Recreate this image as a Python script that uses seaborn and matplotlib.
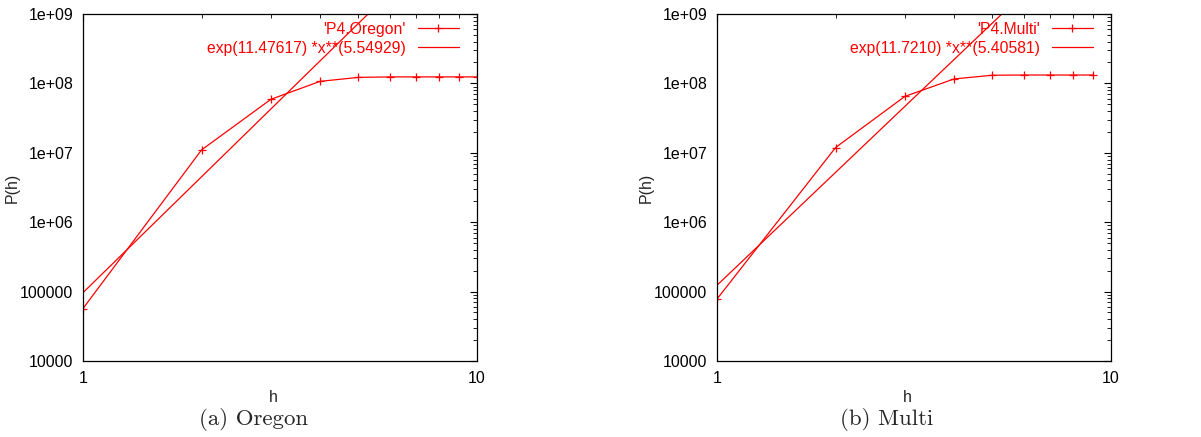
import numpy as np
import seaborn as sns
import matplotlib.pyplot as plt
from matplotlib.ticker import LogLocator, FixedLocator, FuncFormatter, NullFormatter

# data
h_oregon = [1, 2, 3, 4, 5, 6, 7, 8, 9, 10]
p_oregon = [5.7e4, 1.1e7, 5.9e7, 1.07e8, 1.22e8, 1.24e8, 1.24e8, 1.24e8, 1.24e8, 1.24e8]
h_multi = [1, 2, 3, 4, 5, 6, 7, 8, 9]
p_multi = [7.8e4, 1.19e7, 6.5e7, 1.16e8, 1.31e8, 1.32e8, 1.32e8, 1.32e8, 1.32e8]

# fit coefficients shown in the legends: exp(a) * x**b
fit_oregon = (11.47617, 5.54929)
fit_multi = (11.7210, 5.40581)

labels_data = ["'P4.Oregon'", "'P4.Multi'"]
labels_fit = ["exp(11.47617) *x**(5.54929)", "exp(11.7210) *x**(5.40581)"]
captions = ["(a) Oregon", "(b) Multi"]

sns.set_style("white")
plt.rcParams['font.family'] = ['Liberation Sans', 'DejaVu Sans']

fig = plt.figure(figsize=(12.01, 4.37), dpi=100)
ax1 = fig.add_axes([0.0691, 0.174, 0.328, 0.794])
ax2 = fig.add_axes([0.597, 0.174, 0.328, 0.794])

panels = [(ax1, h_oregon, p_oregon, fit_oregon), (ax2, h_multi, p_multi, fit_multi)]
for i, (ax, h, p, fit) in enumerate(panels):
    sns.lineplot(x=h, y=p, ax=ax, color='red', marker='+', markersize=6,
                 markeredgewidth=0.9, markeredgecolor='red', linewidth=0.9,
                 label=labels_data[i])
    xf = np.array([1.0, 10.0])
    yf = np.exp(fit[0]) * xf ** fit[1]
    sns.lineplot(x=xf, y=yf, ax=ax, color='red', linewidth=0.9, label=labels_fit[i])

    ax.set_xscale('log')
    ax.set_yscale('log')
    ax.set_xlim(1, 10)
    ax.set_ylim(1e4, 1e9)

    ax.xaxis.set_major_locator(FixedLocator([1, 10]))
    ax.xaxis.set_major_formatter(FuncFormatter(lambda v, pos: '%d' % v))
    ax.xaxis.set_minor_locator(LogLocator(base=10, subs=np.arange(2, 10)))
    ax.xaxis.set_minor_formatter(NullFormatter())

    ax.yaxis.set_major_locator(LogLocator(base=10, numticks=10))
    ax.yaxis.set_major_formatter(FuncFormatter(
        lambda v, pos: '%d' % round(v) if v < 1e6 else '1e+%02d' % round(np.log10(v))))
    ax.yaxis.set_minor_locator(LogLocator(base=10, subs=np.arange(2, 10), numticks=20))
    ax.yaxis.set_minor_formatter(NullFormatter())

    ax.tick_params(which='both', direction='in', top=True, right=True,
                   color='black', labelsize=11.5, labelcolor='black')
    ax.tick_params(which='major', length=5, width=0.8, pad=7)
    ax.tick_params(which='minor', length=3, width=0.6)
    for s in ax.spines.values():
        s.set_color('black')
        s.set_linewidth(0.9)

    ax.set_xlabel('h', fontsize=11.5)
    ax.set_ylabel('P(h)', fontsize=11.5)
    ax.xaxis.set_label_coords(0.482, -0.084)
    ax.yaxis.set_label_coords(-0.16, 0.5)

    leg = ax.legend(loc='upper right', bbox_to_anchor=(0.954, 0.977), frameon=False,
                    markerfirst=False, fontsize=11.3, handlelength=2.6,
                    borderaxespad=0, borderpad=0, labelspacing=0.25)
    for t in leg.get_texts():
        t.set_color('red')

fig.text(0.211, 0.039, captions[0], ha='center', va='center', fontsize=16.5, family='cmr10')
fig.text(0.738, 0.039, captions[1], ha='center', va='center', fontsize=16.5, family='cmr10')

fig.savefig('out.png', dpi=100)
